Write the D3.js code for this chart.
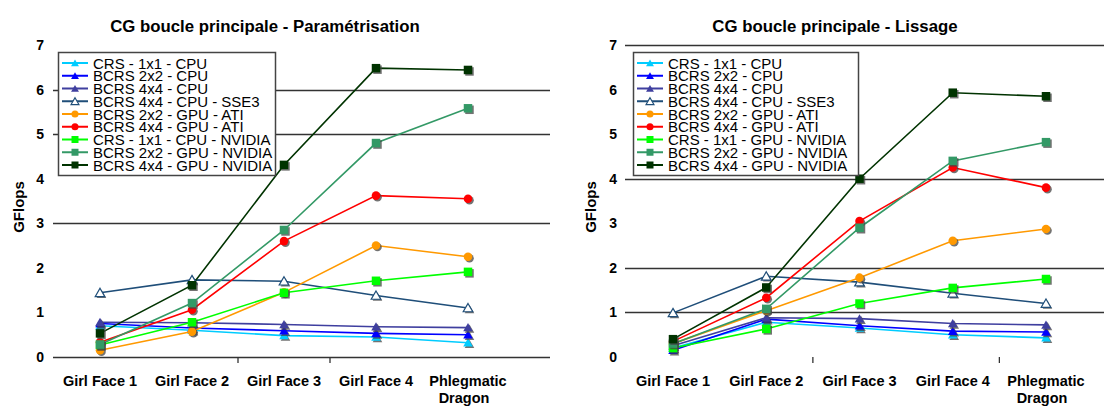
<!DOCTYPE html>
<html><head><meta charset="utf-8">
<script src="https://cdn.jsdelivr.net/npm/d3@7"></script>
<style>
html,body{margin:0;padding:0;background:#fff;}
svg{display:block;font-family:"Liberation Sans",Arial,sans-serif;}
</style></head>
<body>
<svg id="chart" width="1104" height="406"></svg>
<script>
// ---- data ----
const categories = ["Girl Face 1", "Girl Face 2", "Girl Face 3", "Girl Face 4", "Phlegmatic Dragon"];
const yTicks = [0, 1, 2, 3, 4, 5, 6, 7];
const titleLeft = "CG boucle principale - Paramétrisation";
const titleRight = "CG boucle principale - Lissage";
const yLabel = "GFlops";

const legendLeft = ["CRS - 1x1 - CPU", "BCRS 2x2 - CPU", "BCRS 4x4 - CPU", "BCRS 4x4 - CPU - SSE3",
  "BCRS 2x2 - GPU - ATI", "BCRS 4x4 - GPU - ATI", "CRS - 1x1 - CPU - NVIDIA",
  "BCRS 2x2 - GPU - NVIDIA", "BCRS 4x4 - GPU - NVIDIA"];
const legendRight = ["CRS - 1x1 - CPU", "BCRS 2x2 - CPU", "BCRS 4x4 - CPU", "BCRS 4x4 - CPU - SSE3",
  "BCRS 2x2 - GPU - ATI", "BCRS 4x4 - GPU - ATI", "CRS - 1x1 - GPU - NVIDIA",
  "BCRS 2x2 - GPU - NVIDIA", "BCRS 4x4 - GPU - NVIDIA"];

// Paramétrisation
const param_CRS_1x1_CPU      = [0.70, 0.60, 0.48, 0.45, 0.32];
const param_BCRS_2x2_CPU     = [0.75, 0.65, 0.59, 0.53, 0.50];
const param_BCRS_4x4_CPU     = [0.78, 0.77, 0.73, 0.68, 0.66];
const param_BCRS_4x4_SSE3    = [1.44, 1.73, 1.70, 1.38, 1.10];
const param_BCRS_2x2_ATI     = [0.15, 0.57, 1.45, 2.50, 2.25];
const param_BCRS_4x4_ATI     = [0.33, 1.06, 2.60, 3.62, 3.55];
const param_CRS_1x1_NVIDIA   = [0.27, 0.78, 1.44, 1.71, 1.91];
const param_BCRS_2x2_NVIDIA  = [0.28, 1.21, 2.85, 4.80, 5.58];
const param_BCRS_4x4_NVIDIA  = [0.53, 1.61, 4.31, 6.48, 6.44];

// Lissage
const liss_CRS_1x1_CPU      = [0.20, 0.78, 0.65, 0.50, 0.43];
const liss_BCRS_2x2_CPU     = [0.15, 0.85, 0.70, 0.58, 0.56];
const liss_BCRS_4x4_CPU     = [0.25, 0.88, 0.86, 0.75, 0.72];
const liss_BCRS_4x4_SSE3    = [0.99, 1.81, 1.68, 1.43, 1.20];
const liss_BCRS_2x2_ATI     = [0.30, 1.04, 1.78, 2.61, 2.87];
const liss_BCRS_4x4_ATI     = [0.35, 1.33, 3.05, 4.25, 3.80];
const liss_CRS_1x1_NVIDIA   = [0.20, 0.63, 1.20, 1.55, 1.75];
const liss_BCRS_2x2_NVIDIA  = [0.30, 1.08, 2.90, 4.40, 4.82];
const liss_BCRS_4x4_NVIDIA  = [0.40, 1.56, 4.00, 5.93, 5.85];

// ---- styles ----
const colors  = ["#00CCFF", "#0000FF", "#3F3F9F", "#1F4E79", "#FF9900", "#FF0000", "#00FF00", "#339966", "#003300"];
const shapes  = ["tri", "tri", "tri", "triOpen", "circle", "circle", "square", "square", "square"];

const paramSeries = [param_CRS_1x1_CPU, param_BCRS_2x2_CPU, param_BCRS_4x4_CPU, param_BCRS_4x4_SSE3,
  param_BCRS_2x2_ATI, param_BCRS_4x4_ATI, param_CRS_1x1_NVIDIA, param_BCRS_2x2_NVIDIA, param_BCRS_4x4_NVIDIA];
const lissSeries = [liss_CRS_1x1_CPU, liss_BCRS_2x2_CPU, liss_BCRS_4x4_CPU, liss_BCRS_4x4_SSE3,
  liss_BCRS_2x2_ATI, liss_BCRS_4x4_ATI, liss_CRS_1x1_NVIDIA, liss_BCRS_2x2_NVIDIA, liss_BCRS_4x4_NVIDIA];

const svg = d3.select("#chart");

function drawMarker(g, shape, cx, cy, color, s, shadow) {
  const sym = shape === "circle" ? d3.symbolCircle : shape === "square" ? d3.symbolSquare : d3.symbolTriangle;
  const area = shape === "circle" ? s * s * 0.8 : shape === "square" ? s * s : s * s * 0.55;
  const path = d3.symbol().type(sym).size(area)();
  const dy = shape.startsWith("tri") ? 1 : 0;
  if (shadow) {
    g.append("path").attr("d", path)
      .attr("transform", `translate(${cx + 1.5},${cy + dy + 1.5})`)
      .attr("fill", "#444").attr("opacity", 0.75);
  }
  g.append("path").attr("d", path)
    .attr("transform", `translate(${cx},${cy + dy})`)
    .attr("fill", shape === "triOpen" ? "#fff" : color)
    .attr("stroke", shape === "triOpen" ? color : "none")
    .attr("stroke-width", shape === "triOpen" ? 1.2 : 0);
}

function drawChart(cfg) {
  const g = svg.append("g");
  const x = d3.scalePoint().domain(categories).range(cfg.xRange);
  const y = d3.scaleLinear().domain([0, 7]).range([357, 45]);

  // title
  g.append("text").attr("x", cfg.titleX).attr("y", 32).attr("text-anchor", "middle")
    .attr("font-size", 16.8).attr("font-weight", "bold").attr("fill", "#000").text(cfg.title);

  // gridlines
  g.selectAll(".grid").data(cfg.grid).join("line")
    .attr("x1", cfg.gridX[0]).attr("x2", cfg.gridX[1])
    .attr("y1", d => Math.round(y(d)) + 0.5).attr("y2", d => Math.round(y(d)) + 0.5)
    .attr("stroke", "#333").attr("stroke-width", 1.3);

  // y tick labels
  g.selectAll(".ytl").data(yTicks).join("text")
    .attr("x", cfg.yLabX).attr("y", d => y(d) + 5).attr("text-anchor", "end")
    .attr("font-size", 14).attr("font-weight", "bold").attr("fill", "#000").text(d => d);

  // y axis title
  g.append("text").attr("transform", `translate(${cfg.yTitleX},207) rotate(-90)`)
    .attr("text-anchor", "middle").attr("font-size", 15).attr("font-weight", "bold")
    .attr("fill", "#000").text(yLabel);

  // x axis baseline
  if (cfg.baseline) {
    g.append("line").attr("x1", cfg.gridX[0]).attr("x2", cfg.gridX[1])
      .attr("y1", y(0) + 0.5).attr("y2", y(0) + 0.5).attr("stroke", "#333").attr("stroke-width", 1.3);
  }
  // x ticks between categories
  g.selectAll(".xt").data(cfg.xTicks).join("line")
    .attr("x1", i => (x(categories[i]) + x(categories[i + 1])) / 2)
    .attr("x2", i => (x(categories[i]) + x(categories[i + 1])) / 2)
    .attr("y1", y(0)).attr("y2", y(0) + 6).attr("stroke", "#333").attr("stroke-width", 1.3);

  // category labels
  const cl = g.selectAll(".cl").data(categories).join("text")
    .attr("text-anchor", "middle").attr("font-size", 14.5).attr("font-weight", "bold").attr("fill", "#000");
  cl.each(function (d) {
    const t = d3.select(this);
    const parts = d === "Phlegmatic Dragon" ? ["Phlegmatic", "Dragon"] : [d];
    parts.forEach((p, k) => {
      t.append("tspan").attr("x", x(d) + (k === 1 ? -4 : 0)).attr("y", 386 + k * 17).text(p);
    });
  });

  // series lines
  const line = d3.line().x((d, i) => x(categories[i])).y(d => y(d));
  cfg.series.forEach((vals, si) => {
    g.append("path").datum(vals).attr("d", line)
      .attr("fill", "none").attr("stroke", colors[si]).attr("stroke-width", 1.6);
  });
  // markers
  cfg.series.forEach((vals, si) => {
    const mg = g.append("g");
    vals.forEach((v, i) => drawMarker(mg, shapes[si], x(categories[i]), y(v), colors[si], 8.5, true));
  });

  // legend
  const lg = g.append("g");
  lg.append("rect").attr("x", cfg.legend.x + 0.5).attr("y", 52.5)
    .attr("width", cfg.legend.w).attr("height", 123)
    .attr("fill", "#fff").attr("stroke", "#444").attr("stroke-width", 1.5);
  cfg.legendNames.forEach((name, i) => {
    const cy = 63 + i * 12.75;
    const lx = cfg.legend.x + 4;
    lg.append("line").attr("x1", lx).attr("x2", lx + 26).attr("y1", cy).attr("y2", cy)
      .attr("stroke", colors[i]).attr("stroke-width", 2);
    drawMarker(lg, shapes[i], lx + 13, cy, colors[i], 7, false);
    lg.append("text").attr("x", lx + 31).attr("y", cy + 5.5).attr("font-size", 15)
      .attr("fill", "#000").text(name);
  });
}

drawChart({
  title: titleLeft, titleX: 265, xRange: [100, 468], gridX: [53, 550],
  grid: [3, 5, 6], baseline: true, xTicks: [1, 2],
  yLabX: 44, yTitleX: 24, series: paramSeries, legendNames: legendLeft,
  legend: { x: 58, w: 217 }
});
drawChart({
  title: titleRight, titleX: 835, xRange: [673, 1046], gridX: [625, 1104],
  grid: [1, 2, 4, 7], baseline: false, xTicks: [1, 3],
  yLabX: 617, yTitleX: 596, series: lissSeries, legendNames: legendRight,
  legend: { x: 633, w: 225 }
});
</script>
</body></html>
